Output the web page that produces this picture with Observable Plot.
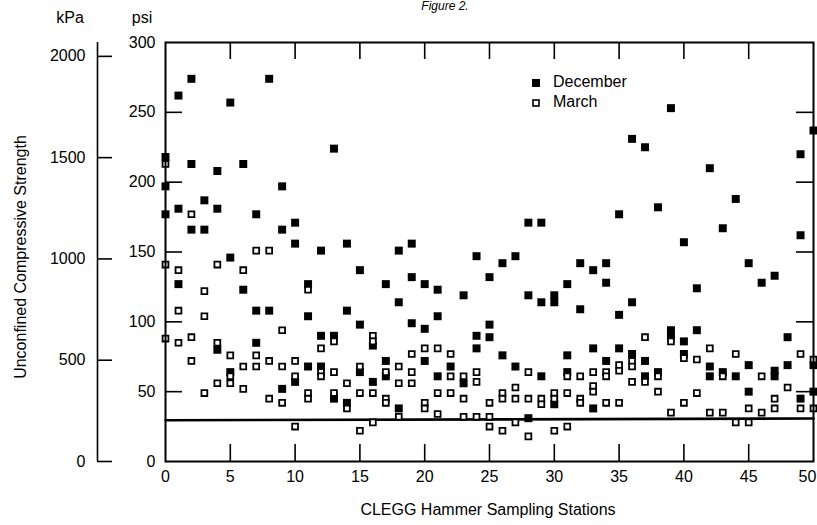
<!DOCTYPE html>
<html>
<head>
<meta charset="utf-8">
<script src="https://cdn.jsdelivr.net/npm/d3@7"></script>
<script src="https://cdn.jsdelivr.net/npm/@observablehq/plot@0.6"></script>
<style>
  html, body { margin: 0; padding: 0; background: #fff; }
  #chart { position: relative; width: 817px; height: 525px; overflow: hidden; }
</style>
</head>
<body>
<div id="chart"></div>
<script>
// ---- data (psi), one array of readings per CLEGG hammer station 0..50 ----
const december = [
  [218, 197, 177], [262, 181, 127], [274, 213, 166], [187, 166], [208, 181, 80],
  [257, 146, 64], [213, 123], [177, 108, 85], [274, 108], [197, 166, 52],
  [171, 156, 57], [127, 104, 68], [151, 90, 68], [224, 90, 45], [156, 108, 42],
  [137, 98, 64], [83, 57], [127, 72, 61], [151, 114, 38], [156, 132, 99],
  [127, 95, 72], [123, 104, 61], [68], [119, 56], [147, 90, 81],
  [132, 98, 89], [142, 76], [147, 68], [171, 119, 31], [171, 114, 61],
  [119, 114, 41], [127, 76, 64], [142, 109], [137, 81, 38], [142, 128, 72],
  [177, 105, 81], [231, 114, 77], [225, 72, 61], [182, 64], [253, 94, 90],
  [157, 86, 77], [124, 94], [210, 68, 61], [167, 64], [188, 61],
  [142, 69, 50], [128], [133, 65, 61], [89, 69], [220, 162, 45],
  [237, 69, 50]
];
const march = [
  [213, 141, 88], [137, 108, 85], [177, 89, 72], [122, 104, 49], [141, 85, 56],
  [76, 61, 56], [137, 68, 52], [151, 76, 68], [151, 72, 45], [94, 68, 42],
  [72, 61, 25], [123, 49, 45], [81, 64, 61], [86, 64, 49], [56, 38],
  [68, 49, 22], [90, 86, 49, 28], [64, 45, 42], [68, 56, 32], [77, 64, 56],
  [81, 42, 38], [81, 49, 34], [77, 61, 49], [61, 45, 32], [64, 57, 32],
  [42, 32, 25], [49, 45, 22], [53, 45, 28], [64, 45, 18], [45, 41],
  [49, 45, 22], [61, 49, 25], [61, 45, 42], [64, 54, 50], [64, 61, 42],
  [69, 65, 42], [72, 68, 57], [89, 57], [61, 50], [86, 35],
  [74, 42], [73, 49], [81, 35], [61, 35], [77, 28],
  [38, 28], [61, 35], [45, 38], [53], [77, 38],
  [73, 38]
];
const thresholdLine = [{station: 0, psi: 29.5}, {station: 50, psi: 30.8}];
const stationTicks = [0, 5, 10, 15, 20, 25, 30, 35, 40, 45, 50];
const psiTicks = [0, 50, 100, 150, 200, 250, 300];
const kpaTicks = [0, 500, 1000, 1500, 2000];
const seriesNames = ["December", "March"];
const KPA_PER_PSI = 6.894757;

// ---- build tables ----
const toPoints = (arr) => arr.flatMap((vals, station) => vals.map(psi => ({station, psi})));
const decPts = toPoints(december);
const marPts = toPoints(march);

const W = 817, H = 525;
const M = {top: 42, right: 4, bottom: 64, left: 165};
const plotW = W - M.left - M.right;
const plotH = H - M.top - M.bottom;
const tickLen = 17;
const innerPsi = psiTicks.filter(d => d > 0 && d < 300);
const innerSta = stationTicks.filter(d => d > 0 && d < 50);
const lastSta = stationTicks[stationTicks.length - 1];
const font = "'Liberation Sans', Arial, Helvetica, sans-serif";

const chart = Plot.plot({
  width: W, height: H,
  marginTop: M.top, marginRight: M.right, marginBottom: M.bottom, marginLeft: M.left,
  x: {domain: [0, 50]},
  y: {domain: [0, 300]},
  style: {fontFamily: font, fontSize: "16px", color: "black", background: "white", overflow: "visible"},
  marks: [
    // threshold line
    Plot.line(thresholdLine, {x: "station", y: "psi", stroke: "black", strokeWidth: 2.6}),
    // inner ticks
    Plot.tickY(innerPsi, {y: d => d, insetRight: plotW - tickLen, stroke: "black", strokeWidth: 1.6}),
    Plot.tickY(innerPsi, {y: d => d, insetLeft: plotW - tickLen, stroke: "black", strokeWidth: 1.6}),
    Plot.tickX(innerSta, {x: d => d, insetTop: plotH - tickLen, stroke: "black", strokeWidth: 1.6}),
    Plot.tickX(innerSta, {x: d => d, insetBottom: plotH - tickLen, stroke: "black", strokeWidth: 1.6}),
    // points
    Plot.dot(decPts, {x: "station", y: "psi", symbol: "square", r: 4.5, fill: "black", stroke: "none"}),
    Plot.dot(marPts, {x: "station", y: "psi", symbol: "square", r: 3.3, fill: "white", stroke: "black", strokeWidth: 1.8}),
    Plot.frame({stroke: "black", strokeWidth: 2}),
    // psi axis labels
    Plot.axisY(psiTicks, {anchor: "left", tickSize: 0, tickPadding: 10, label: null, fontSize: 16}),
    // kPa axis
    Plot.ruleX([0], {y1: 0, y2: 300, dx: -68, stroke: "black", strokeWidth: 1.6}),
    Plot.axisY(kpaTicks.map(k => k / KPA_PER_PSI), {
      anchor: "left", tickSize: 15, dx: -53, tickPadding: 12, strokeWidth: 1.6,
      tickFormat: d => d3.format(".0f")(d * KPA_PER_PSI), label: null, fontSize: 16
    }),
    // station axis labels
    Plot.axisX(stationTicks.slice(0, -1), {anchor: "bottom", tickSize: 0, tickPadding: 9, label: null, fontSize: 16}),
    Plot.axisX([lastSta], {anchor: "bottom", tickSize: 0, tickPadding: 9, label: null, fontSize: 16, dx: -6})
  ]
});

document.getElementById("chart").appendChild(chart);

const svg = d3.select(chart);
const addText = (txt, x, y, opts = {}) => {
  const t = svg.append("text").text(txt)
    .attr("x", x).attr("y", y)
    .attr("font-family", font)
    .attr("font-size", opts.size || 16)
    .attr("fill", "black")
    .attr("text-anchor", opts.anchor || "middle");
  if (opts.italic) t.attr("font-style", "italic");
  if (opts.rotate) t.attr("transform", `rotate(-90 ${x} ${y})`);
  if (opts.baseline) t.attr("dominant-baseline", opts.baseline);
  return t;
};

addText("Figure 2.", 445, 10, {size: 12, italic: true});
addText("kPa", 70, 23);
addText("psi", 142, 23);
addText("CLEGG Hammer Sampling Stations", 488, 515);
addText("Unconfined Compressive Strength", 26, 257, {rotate: true});

// legend
const legend = svg.append("g");
seriesNames.forEach((name, i) => {
  const cy = 83 + i * 20;
  legend.append("rect")
    .attr("x", i === 0 ? 532 : 533).attr("y", cy - (i === 0 ? 4 : 3))
    .attr("width", i === 0 ? 8 : 6).attr("height", i === 0 ? 8 : 6)
    .attr("fill", i === 0 ? "black" : "white")
    .attr("stroke", i === 0 ? "none" : "black")
    .attr("stroke-width", 1.6);
  addText(name, 553, cy, {anchor: "start", baseline: "middle"});
});
</script>
</body>
</html>
